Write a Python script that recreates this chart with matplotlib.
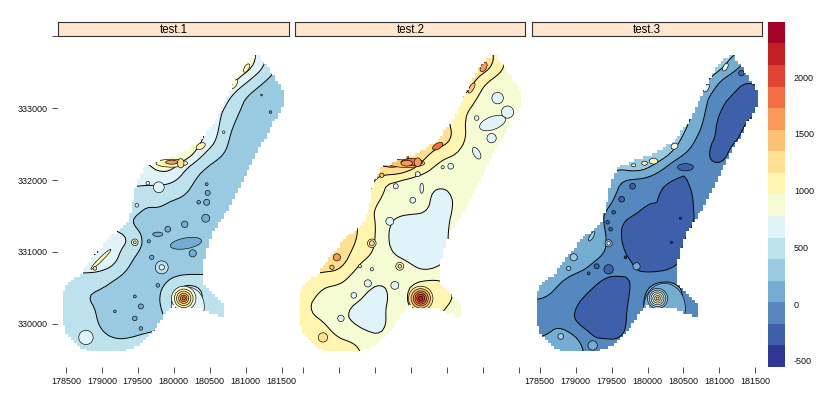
import numpy as np
import matplotlib
matplotlib.use("Agg")
import matplotlib.pyplot as plt
from matplotlib.colors import BoundaryNorm, ListedColormap
from matplotlib.patches import Ellipse
from matplotlib.path import Path

plt.rcParams['font.family'] = ['Liberation Sans', 'DejaVu Sans']

# [ DATA ]
panel_names = ["test.1", "test.2", "test.3"]
x_ticks = [178500, 179000, 179500, 180000, 180500, 181000, 181500]
y_ticks = [330000, 331000, 332000, 333000]
bar_ticks = [-500, 0, 500, 1000, 1500, 2000]
levels = [-552, -362, -172, 18, 207, 397, 586, 776, 966, 1156, 1346, 1536, 1726, 1916, 2106, 2296, 2485]

grid_x = [178400, 178600, 178800, 179000, 179200, 179400, 179600, 179800, 180000,
          180200, 180400, 180600, 180800, 181000, 181200, 181400, 181600]
grid_y = [333800, 333600, 333400, 333200, 333000, 332800, 332600, 332400, 332200, 332000, 331800,
          331600, 331400, 331200, 331000, 330800, 330600, 330400, 330200, 330000, 329800, 329600]

test1 = [
    [600, 600, 600, 600, 600, 600, 600, 600, 600, 600, 600, 600, 1000, 950, 700, 480, 400],
    [600, 600, 600, 600, 600, 600, 600, 600, 600, 600, 600, 950, 1000, 950, 680, 400, 340],
    [600, 600, 600, 600, 600, 600, 600, 600, 600, 600, 1000, 1000, 900, 640, 430, 340, 300],
    [600, 600, 600, 600, 600, 600, 600, 600, 600, 600, 900, 850, 580, 395, 320, 300, 300],
    [600, 600, 600, 600, 600, 600, 600, 600, 600, 850, 800, 650, 500, 340, 300, 300, 300],
    [600, 600, 600, 600, 600, 600, 600, 600, 950, 850, 780, 640, 410, 320, 290, 300, 300],
    [600, 600, 600, 600, 600, 600, 600, 1000, 950, 900, 850, 590, 350, 300, 300, 300, 300],
    [600, 600, 600, 600, 600, 800, 900, 1000, 1000, 1000, 620, 480, 340, 300, 300, 300, 300],
    [600, 600, 600, 600, 700, 800, 680, 900, 850, 560, 420, 330, 300, 300, 320, 300, 300],
    [600, 600, 600, 600, 650, 650, 650, 640, 610, 450, 330, 310, 350, 420, 420, 300, 300],
    [600, 600, 600, 600, 520, 520, 480, 490, 460, 380, 300, 320, 350, 420, 420, 300, 300],
    [600, 600, 600, 600, 520, 520, 370, 400, 300, 300, 310, 300, 300, 300, 300, 300, 300],
    [600, 600, 600, 600, 500, 350, 300, 300, 300, 300, 300, 300, 300, 300, 300, 300, 300],
    [600, 600, 680, 680, 680, 620, 340, 300, 300, 300, 300, 300, 300, 300, 300, 300, 300],
    [600, 830, 830, 830, 640, 450, 350, 300, 300, 300, 300, 300, 300, 300, 300, 300, 300],
    [680, 680, 680, 650, 580, 360, 300, 300, 300, 300, 300, 300, 300, 300, 300, 300, 300],
    [480, 480, 480, 470, 350, 300, 300, 340, 430, 470, 470, 470, 470, 300, 300, 300, 300],
    [450, 450, 380, 350, 300, 300, 320, 380, 580, 900, 600, 450, 450, 450, 300, 300, 300],
    [500, 500, 440, 360, 300, 300, 310, 380, 480, 600, 500, 430, 430, 430, 300, 300, 300],
    [500, 500, 460, 370, 300, 300, 320, 370, 400, 430, 430, 430, 430, 430, 300, 300, 300],
    [500, 500, 480, 430, 385, 400, 440, 440, 440, 440, 440, 440, 440, 440, 300, 300, 300],
    [490, 490, 490, 490, 490, 490, 490, 490, 490, 490, 490, 490, 490, 490, 490, 490, 490],
]
test2 = [
    [900, 900, 900, 900, 900, 900, 900, 900, 900, 900, 900, 900, 1300, 1300, 1100, 900, 870],
    [900, 900, 900, 900, 900, 900, 900, 900, 900, 900, 900, 1300, 1400, 1350, 1100, 850, 870],
    [900, 900, 900, 900, 900, 900, 900, 900, 900, 900, 1300, 1300, 1300, 1020, 880, 870, 870],
    [900, 900, 900, 900, 900, 900, 900, 900, 900, 900, 1300, 1250, 1150, 880, 870, 870, 870],
    [900, 900, 900, 900, 900, 900, 900, 900, 900, 1300, 1250, 1150, 950, 870, 870, 870, 870],
    [900, 900, 900, 900, 900, 900, 900, 900, 1300, 1300, 1250, 1100, 910, 870, 870, 870, 870],
    [900, 900, 900, 900, 900, 900, 900, 1300, 1300, 1300, 1350, 1150, 920, 870, 870, 870, 870],
    [900, 900, 900, 900, 900, 1300, 1400, 1400, 1350, 1250, 1080, 1000, 880, 870, 870, 870, 870],
    [900, 900, 900, 900, 1300, 1400, 1400, 1500, 1300, 1060, 900, 870, 870, 870, 870, 870, 870],
    [900, 900, 900, 900, 1250, 1250, 1000, 920, 860, 860, 870, 870, 870, 870, 870, 870, 870],
    [900, 900, 900, 900, 1220, 1220, 950, 880, 870, 860, 660, 800, 870, 870, 870, 870, 870],
    [900, 900, 900, 1100, 1100, 1020, 870, 870, 860, 830, 660, 790, 870, 870, 870, 870, 870],
    [900, 900, 1200, 1200, 1200, 1060, 890, 700, 650, 670, 640, 850, 870, 870, 870, 870, 870],
    [900, 1300, 1300, 1300, 1200, 1060, 880, 640, 620, 620, 640, 880, 870, 870, 870, 870, 870],
    [1300, 1300, 1300, 1350, 1120, 1010, 890, 720, 680, 640, 640, 870, 870, 870, 870, 870, 870],
    [1100, 1250, 1250, 1230, 1000, 880, 880, 890, 800, 680, 770, 870, 870, 870, 870, 870, 870],
    [1100, 1100, 1020, 1000, 880, 860, 790, 860, 920, 960, 990, 900, 900, 870, 870, 870, 870],
    [1050, 1010, 900, 880, 880, 740, 680, 880, 1000, 1300, 1100, 960, 900, 870, 870, 870, 870],
    [1050, 950, 880, 850, 720, 700, 740, 880, 950, 1100, 1000, 900, 900, 870, 870, 870, 870],
    [1080, 1030, 980, 840, 760, 700, 720, 880, 880, 900, 900, 900, 900, 870, 870, 870, 870],
    [1080, 1080, 1060, 970, 930, 830, 790, 880, 880, 880, 880, 880, 880, 870, 870, 870, 870],
    [1080, 1080, 1080, 1070, 1060, 900, 880, 880, 880, 880, 880, 880, 880, 870, 870, 870, 870],
]
test3 = [
    [100, 100, 100, 100, 100, 100, 100, 100, 100, 100, 100, 100, 300, 200, 300, 100, -60],
    [100, 100, 100, 100, 100, 100, 100, 100, 100, 100, 100, 300, 400, 350, 100, -60, -100],
    [100, 100, 100, 100, 100, 100, 100, 100, 100, 100, 300, 300, 300, 0, -100, -170, -100],
    [100, 100, 100, 100, 100, 100, 100, 100, 100, 100, 300, 250, 60, -80, -180, -260, -200],
    [100, 100, 100, 100, 100, 100, 100, 100, 100, 300, 300, 250, 30, -160, -270, -230, -200],
    [100, 100, 100, 100, 100, 100, 100, 100, 300, 300, 300, 220, -20, -230, -260, -150, -100],
    [100, 100, 100, 100, 100, 100, 100, 300, 300, 300, 300, 100, -90, -210, -220, -100, -100],
    [100, 100, 100, 100, 100, 300, 400, 400, 400, 400, 180, -20, -150, -260, -120, -100, -100],
    [100, 100, 100, 100, 200, 300, 250, 400, 300, 80, -130, -190, -140, -170, -100, -100, -100],
    [100, 100, 100, 100, 300, 300, 20, -60, -60, -150, -190, -160, -90, -100, -100, -100, -100],
    [100, 100, 100, 100, 200, 200, -50, -90, -160, -180, -260, -190, -80, -100, -100, -100, -100],
    [100, 100, 100, 100, 100, 30, -80, -120, -190, -150, -270, -200, -80, -100, -100, -100, -100],
    [100, 100, 100, 100, 100, 20, -160, -230, -270, -270, -270, -200, -100, -100, -100, -100, -100],
    [100, 100, 200, 200, 200, 60, -170, -270, -270, -270, -250, -120, -100, -100, -100, -100, -100],
    [100, 150, 150, 150, 110, 40, -120, -240, -280, -280, -220, -100, -100, -100, -100, -100, -100],
    [120, 120, 120, 100, 20, -90, -100, -150, -250, -270, -180, -100, -100, -100, -100, -100, -100],
    [110, 110, 30, -60, -100, -200, -210, -170, -70, -10, -10, -70, -70, -100, -100, -100, -100],
    [50, 40, -60, -120, -200, -290, -280, -140, 60, 350, 100, -60, -60, -100, -100, -100, -100],
    [-40, -60, -100, -180, -260, -300, -260, -100, 60, 350, 40, -70, -70, -100, -100, -100, -100],
    [-60, -50, -10, -210, -240, -280, -260, -90, -40, -40, -60, -60, -60, -100, -100, -100, -100],
    [20, 20, 160, 80, -170, -180, -190, -100, -80, -80, -80, -80, -80, -100, -100, -100, -100],
    [150, 150, 160, 140, -60, -60, -70, -70, -70, -70, -70, -70, -70, -100, -100, -100, -100],
]

area_x = [181167, 181306, 181556, 181556, 181236, 180986, 180778, 180542, 180417, 180417, 180709, 180709,
          180542, 180403, 179986, 179903, 179764, 179528, 179222, 178875, 178653, 178514, 178444, 178486,
          178722, 178875, 179111, 179361, 179417, 179500, 179625, 180042, 180361, 180597, 180750, 180958]
area_y = [333757, 333603, 333213, 333087, 332515, 332027, 331622, 331260, 330841, 330562, 330283, 330088,
          330144, 330213, 330241, 330158, 329948, 329711, 329600, 329600, 329711, 329865, 330116, 330506,
          330716, 330925, 331204, 331413, 331594, 331999, 332208, 332348, 332529, 332836, 333143, 333575]

# spots: x, y, radius x, radius y, angle, value
spots1 = [
    (179792, 331901, 75, 75, 0, 680), (180445, 331469, 55, 55, 0, 150), (180153, 331385, 45, 45, 0, 150),
    (179917, 331316, 40, 40, 0, 150), (179778, 331246, 70, 30, 0, 150), (180264, 330981, 50, 50, 0, 150),
    (179694, 330925, 30, 30, 0, 150), (179653, 331148, 22, 22, 0, 150), (180170, 331120, 220, 75, 10, 150),
    (179833, 330785, 90, 90, 0, 490), (179833, 330785, 37, 37, 0, 680), (179458, 331134, 46, 46, 0, 870),
    (179458, 331134, 20, 20, 0, 1060), (179778, 330534, 25, 25, 0, 150), (179458, 330380, 20, 20, 0, 150),
    (179542, 330241, 35, 35, 0, 150), (179458, 330074, 32, 32, 0, 150), (179542, 329934, 25, 25, 0, 150),
    (179181, 330172, 18, 18, 0, 150), (178778, 329809, 100, 100, 0, 680), (180472, 331822, 35, 35, 0, 150),
    (180458, 331692, 42, 42, 0, 150), (180458, 331943, 20, 20, 0, 150), (180347, 331692, 25, 25, 0, 150),
    (179639, 331957, 25, 25, 0, 680), (179486, 331650, 25, 25, 0, 680), (180695, 332668, 18, 18, 0, 680),
    (181222, 333185, 12, 12, 0, 100), (181347, 332948, 18, 18, 0, 150), (179972, 332236, 220, 55, 0, 1060),
    (179972, 332250, 85, 28, 0, 1630), (180097, 332236, 45, 65, 0, 1250), (180375, 332473, 70, 40, 30, 1060),
    (180847, 333340, 30, 70, -30, 1060), (181014, 333561, 30, 65, -30, 1060), (178986, 330897, 195, 25, 45, 1060),
    (178903, 330771, 25, 25, 0, 1250), (180195, 330241, 230, 270, 0, 680),
    (180139, 330353, 170, 170, 0, 870), (180139, 330353, 130, 130, 0, 1060), (180139, 330353, 100, 100, 0, 1250),
    (180139, 330353, 70, 70, 0, 1440), (180139, 330353, 45, 45, 0, 1630), (180139, 330353, 22, 22, 0, 1820),
]
spots2 = [
    (179944, 332236, 250, 60, 0, 1440), (180014, 332250, 150, 50, 0, 1900), (179944, 332236, 80, 40, 0, 1630),
    (180097, 332250, 50, 60, 0, 1700), (179597, 332068, 30, 30, 0, 1500), (180375, 332473, 80, 40, 30, 1800),
    (181014, 333575, 40, 70, -30, 1630), (180847, 333283, 30, 80, -30, 1500), (178972, 330925, 50, 50, 0, 1630),
    (178903, 330786, 30, 30, 0, 1500), (179458, 331120, 60, 60, 0, 1060), (179458, 331120, 35, 35, 0, 1250),
    (179847, 330800, 55, 55, 0, 1060), (179847, 330800, 25, 25, 0, 1250), (178778, 329809, 65, 65, 0, 1200),
    (179208, 330395, 40, 40, 0, 680), (179028, 330074, 45, 45, 0, 680), (179403, 330562, 50, 50, 0, 680),
    (179292, 330800, 22, 22, 0, 680), (179458, 330758, 22, 22, 0, 680), (179708, 331427, 55, 55, 0, 680),
    (180556, 332194, 40, 40, 0, 680), (180444, 332180, 22, 22, 0, 680), (179792, 331915, 35, 35, 0, 680),
    (180028, 331720, 40, 40, 0, 680), (180153, 331887, 25, 70, 0, 680), (180917, 332865, 32, 32, 0, 680),
    (180097, 332083, 35, 35, 0, 680), (179778, 330534, 55, 55, 0, 680),
    (181209, 333143, 80, 80, 0, 680), (181347, 332948, 85, 85, 0, 680), (181139, 332795, 190, 90, 20, 680),
    (181125, 332585, 65, 65, 0, 680), (180917, 332375, 90, 45, -60, 680),
    (180139, 330353, 170, 170, 0, 1250), (180139, 330353, 135, 135, 0, 1440), (180139, 330353, 105, 105, 0, 1630),
    (180139, 330353, 80, 80, 0, 1820), (180139, 330353, 55, 55, 0, 2010), (180139, 330353, 30, 30, 0, 2200),
]
spots3 = [
    (180528, 332180, 110, 50, 0, -260), (179792, 331915, 40, 40, 0, -260), (179639, 331734, 40, 40, 0, -260),
    (181306, 333491, 38, 38, 0, -260), (179458, 330758, 65, 65, 0, -260), (179292, 330800, 35, 35, 0, -260),
    (179181, 330702, 20, 20, 0, -260), (179847, 330800, 50, 50, 0, 110), (179236, 329697, 65, 65, 0, 110),
    (178792, 329823, 40, 40, 0, 300), (179458, 331120, 50, 50, 0, 300), (179458, 331120, 25, 25, 0, 680),
    (179528, 331553, 25, 25, 0, -260), (179444, 331413, 25, 25, 0, -260), (179486, 331316, 25, 25, 0, -260),
    (179222, 331218, 25, 75, -30, 300), (178972, 330925, 50, 50, 0, 300), (178903, 330771, 30, 30, 0, 300),
    (180083, 332264, 60, 40, 0, 1060), (179958, 332236, 40, 28, 0, 1060), (179806, 332208, 30, 20, 0, 870),
    (180375, 332473, 50, 40, 30, 870), (180819, 333283, 30, 60, -30, 680), (181083, 333575, 30, 60, -30, 680),
    (180458, 331469, 15, 15, 0, -450), (180333, 331134, 15, 15, 0, -450), (179694, 330925, 20, 20, 0, -450),
    (180236, 330213, 290, 350, 0, 110),
    (180139, 330353, 140, 140, 0, 300), (180139, 330353, 115, 115, 0, 490),
    (180139, 330353, 90, 90, 0, 680), (180139, 330353, 65, 65, 0, 870), (180139, 330353, 40, 40, 0, 1060),
    (180139, 330353, 20, 20, 0, 1250),
]
panel_values = [test1, test2, test3]
panel_spots = [spots1, spots2, spots3]

# [ COLOURS AND SIZES ]
W, H = 820, 413
ramp = plt.get_cmap("RdYlBu_r")
colors = [ramp(i / 15) for i in range(16)]
cmap = ListedColormap(colors)
norm = BoundaryNorm(levels, cmap.N)
panel_left = [58.5, 295.5, 532.3]
panel_w = 230
panel_top, panel_bottom = 36, 366.5


def px_axes(left, top, right, bottom):
    return fig.add_axes([left / W, 1 - bottom / H, (right - left) / W, (bottom - top) / H])


def rounded(z):
    # only rounds off the contour corners, the node values stay as read
    gx = np.linspace(grid_x[0], grid_x[-1], 4 * (len(grid_x) - 1) + 1)
    gy = np.linspace(grid_y[-1], grid_y[0], 4 * (len(grid_y) - 1) + 1)
    z = np.array(z, dtype=float)[::-1]
    z = np.array([np.interp(gx, grid_x, row) for row in z])
    z = np.array([np.interp(gy, grid_y[::-1], col) for col in z.T]).T
    kernel = np.ones(5) / 5
    for axis in (0, 1):
        pad = [(0, 0), (0, 0)]
        pad[axis] = (2, 2)
        z = np.apply_along_axis(lambda v: np.convolve(v, kernel, mode="valid"), axis, np.pad(z, pad, mode="edge"))
    return gx, gy, z


fig = plt.figure(figsize=(W / 100, H / 100), dpi=100)

# staircase mask on the 40 m cells
cell_x = np.arange(178300, 181800, 40)
cell_y = np.arange(329300, 334100, 40)
cx, cy = np.meshgrid(cell_x + 20, cell_y + 20)
area = Path(np.column_stack([area_x, area_y]))
inside = area.contains_points(np.column_stack([cx.ravel(), cy.ravel()])).reshape(cx.shape)
mask_rgba = np.ones(inside.shape + (4,))
mask_rgba[..., 3] = np.where(inside, 0.0, 1.0)

for i, name in enumerate(panel_names):
    left = panel_left[i]
    ax = px_axes(left, panel_top, left + panel_w + 1, panel_bottom)
    gx, gy, z = rounded(panel_values[i])
    ax.contourf(gx, gy, z, levels=levels, cmap=cmap, norm=norm, zorder=1)
    ax.contour(gx, gy, z, levels=levels, colors="black", linewidths=0.7, linestyles="solid", zorder=2)
    for sx, sy, rx, ry, ang, val in panel_spots[i]:
        ax.add_patch(Ellipse((sx, sy), 2 * rx, 2 * ry, angle=ang, facecolor=cmap(norm(val)),
                             edgecolor="black", linewidth=0.45, zorder=3))
    ax.imshow(mask_rgba, origin="lower", interpolation="nearest", aspect="auto", zorder=4,
              extent=[cell_x[0], cell_x[-1] + 40, cell_y[0], cell_y[-1] + 40])
    ax.set_xlim(178396, 181611)
    ax.set_ylim(329404, 334008)
    for s in ax.spines.values():
        s.set_visible(False)
    ax.set_xticks(x_ticks)
    ax.set_xticklabels([str(t) for t in x_ticks] if i != 1 else [""] * len(x_ticks))
    ax.tick_params(axis="x", length=4.2, width=0.6, color="#333333", labelsize=6.5, pad=3.5, labelcolor="#111111")
    if i == 0:
        ax.set_yticks(y_ticks + [334008])
        ax.set_yticklabels([str(t) for t in y_ticks] + [""])
        ax.tick_params(axis="y", length=4.2, width=0.6, color="#333333", labelsize=6.5, pad=3.5, labelcolor="#111111")
    else:
        ax.set_yticks([])

    strip = px_axes(left, 22, left + panel_w, panel_top)
    strip.set_facecolor("#FFE5CC")
    strip.set_xticks([])
    strip.set_yticks([])
    for s in strip.spines.values():
        s.set_linewidth(0.8)
        s.set_color("#333333")
    strip.text(0.5, 0.46, name, transform=strip.transAxes, ha="center", va="center", fontsize=8.3)

# color key
bar = px_axes(768.3, 22, 785, 366.7)
bar.pcolormesh([0, 1], levels, np.arange(16).reshape(-1, 1), cmap=cmap, vmin=-0.5, vmax=15.5)
bar.set_xticks([])
bar.yaxis.tick_right()
bar.set_yticks(bar_ticks)
bar.set_yticklabels([str(t) for t in bar_ticks])
bar.tick_params(axis="y", length=0, pad=6.5, labelsize=6.5, labelcolor="#111111")
for s in bar.spines.values():
    s.set_visible(False)

fig.savefig("out.png", dpi=100)
